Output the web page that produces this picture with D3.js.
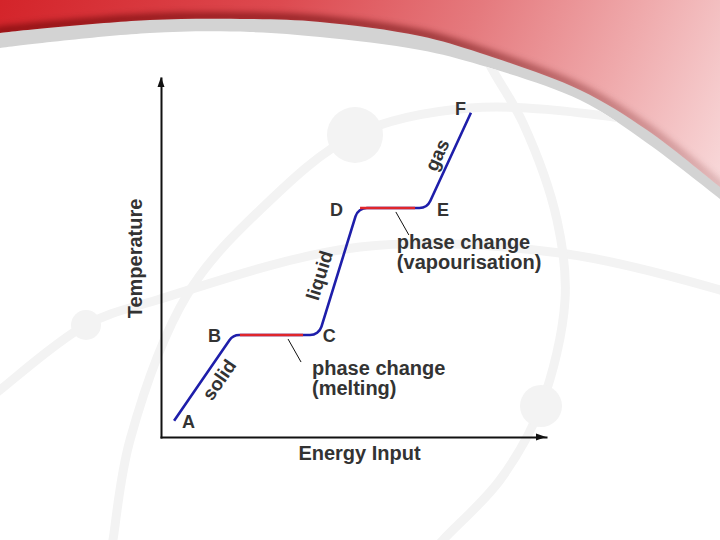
<!DOCTYPE html>
<html><head><meta charset="utf-8">
<script src="https://cdn.jsdelivr.net/npm/d3@7"></script>
<style>html,body{margin:0;padding:0;background:#fff;} svg{display:block;}</style>
</head><body>
<script>
// ---------------- data ----------------
const pointLabels = ["A", "B", "C", "D", "E", "F"];
const energy      = [3.4, 18.7, 41.0, 51.2, 69.1, 80.5];
const temperature = [4.5, 28.4, 28.4, 63.8, 63.8, 90.3];

const phaseNames  = ["melting", "vapourisation"];
const phaseStart  = [20.5, 51.7];
const phaseEnd    = [36.9, 66.0];
const phaseTemp   = [28.4, 63.8];
const leaderAt    = [33.0, 61.0];

const stateNames  = ["solid", "liquid", "gas"];
const axisTitles  = ["Energy Input", "Temperature"];

// ---------------- styles / layout ----------------
const W = 720, H = 540;
const textColor = "#333333";
const blue = "#1e1eaa", red = "#e0262b";
const labelOffsets = [[8, 7], [-25, 7], [4, 7], [-28, 8], [10, 8], [-16, 2]];
const stateFrac = [0.57, 0.43, 0.5];
const stateShift = [14, -17, -13];
const phaseTextOffset = [[24, 40], [1, 41]];

const svg = d3.select("body").append("svg").attr("width", W).attr("height", H);
const defs = svg.append("defs");

// ---------------- background decoration ----------------
const g1 = defs.append("linearGradient").attr("id", "redg")
  .attr("x1", "0").attr("y1", "0").attr("x2", "1").attr("y2", "0.35");
[[0, "#d4242a"], [0.35, "#dd4a50"], [0.6, "#e57a7e"], [0.8, "#efa9ab"], [1, "#f8d9da"]]
  .forEach(([o, c]) => g1.append("stop").attr("offset", o).attr("stop-color", c));
const g2 = defs.append("linearGradient").attr("id", "shadg")
  .attr("x1", "0").attr("y1", "0").attr("x2", "1").attr("y2", "0");
[[0, 0.55], [0.6, 0.5], [1, 0.15]].forEach(([o, a]) =>
  g2.append("stop").attr("offset", o).attr("stop-color", "#5a0c0c").attr("stop-opacity", a));
defs.append("filter").attr("id", "blur").attr("x", "-10%").attr("y", "-50%").attr("width", "120%").attr("height", "200%")
  .append("feGaussianBlur").attr("stdDeviation", 3);

svg.append("rect").attr("width", W).attr("height", H).attr("fill", "url(#redg)");

const edge = d3.line().curve(d3.curveCatmullRom);
const whiteEdge = [[-5, 49], [0, 48], [150, 33], [250, 32], [320, 37], [420, 50], [480, 65], [580, 100], [647, 143], [720, 199], [730, 207]];
const grayEdge  = [[-5, 34], [0, 33], [150, 20], [250, 19], [320, 22], [420, 36], [480, 53], [580, 90], [647, 130], [720, 187], [730, 195]];
const shapeOf = pts => edge(pts) + `L730,${H + 10}L-5,${H + 10}Z`;

svg.append("path").attr("d", edge(grayEdge)).attr("transform", "translate(0,-2)")
  .attr("fill", "none").attr("stroke", "url(#shadg)").attr("stroke-width", 9).attr("filter", "url(#blur)");
svg.append("path").attr("d", shapeOf(grayEdge)).attr("fill", "#d3d3d3");
svg.append("path").attr("d", shapeOf(whiteEdge)).attr("fill", "#ffffff");

defs.append("clipPath").attr("id", "whiteclip").append("path").attr("d", shapeOf(whiteEdge));
const deco = svg.append("g").attr("clip-path", "url(#whiteclip)");
const decoCol = "#f3f3f3";
const arcs = [
  [[-10, 398], [0, 390], [86, 325], [157, 300], [360, 247], [560, 253], [720, 290], [740, 297]],
  [[110, 560], [113, 540], [130, 440], [187, 295], [260, 210], [355, 135], [470, 108], [620, 118], [700, 135]],
  [[480, 40], [490, 65], [523, 123], [557, 220], [565, 300], [541, 406], [500, 480], [443, 540], [425, 560]]
];
arcs.forEach(a => deco.append("path").attr("d", edge(a)).attr("fill", "none")
  .attr("stroke", decoCol).attr("stroke-width", 9));
[[355, 135, 28], [86, 325, 15], [541, 406, 21]].forEach(([cx, cy, r]) =>
  deco.append("circle").attr("cx", cx).attr("cy", cy).attr("r", r).attr("fill", decoCol));

// ---------------- chart ----------------
const x = d3.scaleLinear().domain([0, 100]).range([161, 546]);
const y = d3.scaleLinear().domain([0, 100]).range([437, 78]);

const fontFam = "'Liberation Sans', Arial, Helvetica, sans-serif";

// axes
const xAxis = svg.append("g").attr("transform", `translate(0,${y(0)})`)
  .call(d3.axisBottom(x).tickValues([]).tickSizeOuter(0));
const yAxis = svg.append("g").attr("transform", `translate(${x(0)},0)`)
  .call(d3.axisLeft(y).tickValues([]).tickSizeOuter(0));
[xAxis, yAxis].forEach(a => a.select(".domain").attr("stroke", "#111").attr("stroke-width", 2)
  .attr("stroke-linecap", "square"));
svg.append("path").attr("fill", "#111")
  .attr("d", `M${x(100)},${y(0)}L${x(100) - 10},${y(0) - 3.5}L${x(100) - 10},${y(0) + 3.5}Z`);
svg.append("path").attr("fill", "#111")
  .attr("d", `M${x(0)},${y(100) - 1}L${x(0) - 3.5},${y(100) + 9}L${x(0) + 3.5},${y(100) + 9}Z`);

svg.append("text").text(axisTitles[0])
  .attr("x", (x(0) + x(100)) / 2 + 6).attr("y", y(0) + 23)
  .attr("text-anchor", "middle").attr("font-family", fontFam).attr("font-weight", "bold")
  .attr("font-size", 20).attr("fill", textColor);
svg.append("text").text(axisTitles[1])
  .attr("transform", `translate(${x(0) - 19},${(y(0) + y(100)) / 2 + 1}) rotate(-90)`)
  .attr("text-anchor", "middle").attr("font-family", fontFam).attr("font-weight", "bold")
  .attr("font-size", 20).attr("fill", textColor);

// curve with rounded corners
const pts = energy.map((e, i) => [x(e), y(temperature[i])]);
const p = d3.path();
p.moveTo(pts[0][0], pts[0][1]);
for (let i = 1; i < pts.length - 1; i++) p.arcTo(pts[i][0], pts[i][1], pts[i + 1][0], pts[i + 1][1], 12);
p.lineTo(pts[pts.length - 1][0], pts[pts.length - 1][1]);
svg.append("path").attr("d", p.toString()).attr("fill", "none")
  .attr("stroke", blue).attr("stroke-width", 2.6).attr("stroke-linejoin", "round");

// red phase-change plateaus
phaseNames.forEach((n, i) => {
  svg.append("line").attr("x1", x(phaseStart[i])).attr("x2", x(phaseEnd[i]))
    .attr("y1", y(phaseTemp[i])).attr("y2", y(phaseTemp[i]))
    .attr("stroke", red).attr("stroke-width", 2.6);
  const lx = x(leaderAt[i]), ly = y(phaseTemp[i]);
  svg.append("line").attr("x1", lx).attr("y1", ly + 4).attr("x2", lx + 13).attr("y2", ly + 27)
    .attr("stroke", "#111").attr("stroke-width", 1);
  const t = svg.append("text").attr("font-family", fontFam).attr("font-weight", "bold")
    .attr("font-size", 20).attr("fill", textColor);
  const tx = lx + phaseTextOffset[i][0], ty = ly + phaseTextOffset[i][1];
  t.append("tspan").attr("x", tx).attr("y", ty).text("phase change");
  t.append("tspan").attr("x", tx).attr("y", ty + 20).text("(" + n + ")");
});

// point labels
pointLabels.forEach((l, i) => {
  svg.append("text").text(l).attr("x", pts[i][0] + labelOffsets[i][0]).attr("y", pts[i][1] + labelOffsets[i][1])
    .attr("font-family", fontFam).attr("font-weight", "bold").attr("font-size", 18).attr("fill", textColor);
});

// state labels along the slopes
stateNames.forEach((s, i) => {
  const a = pts[2 * i], b = pts[2 * i + 1];
  const dx = b[0] - a[0], dy = b[1] - a[1], len = Math.hypot(dx, dy);
  const ux = dx / len, uy = dy / len, nx = -uy, ny = ux;
  const cx = a[0] + dx * stateFrac[i] + nx * stateShift[i];
  const cy = a[1] + dy * stateFrac[i] + ny * stateShift[i];
  const ang = Math.atan2(dy, dx) * 180 / Math.PI;
  svg.append("text").text(s).attr("transform", `translate(${cx},${cy}) rotate(${ang})`)
    .attr("text-anchor", "middle").attr("dominant-baseline", "central")
    .attr("font-family", fontFam).attr("font-weight", "bold").attr("font-size", 19).attr("fill", textColor);
});
</script>
</body></html>
